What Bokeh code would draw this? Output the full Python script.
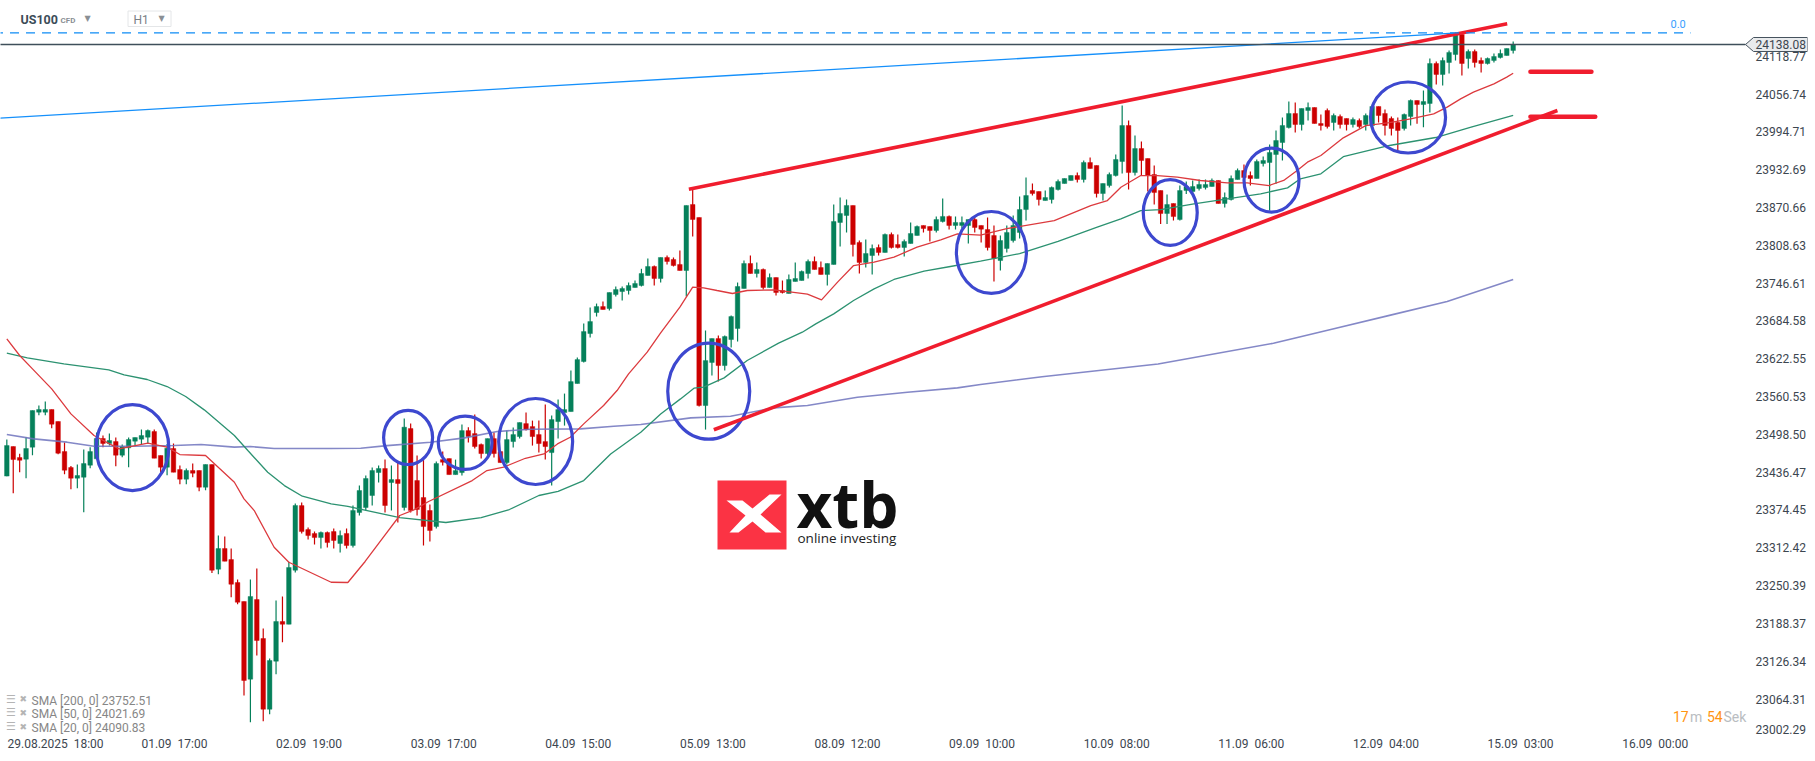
from bokeh.plotting import figure
from bokeh.models import (FixedTicker, Label, PolyAnnotation, Range1d, PrintfTickFormatter)
from bokeh.embed import file_html
from bokeh.resources import INLINE

# ---- data ----
opens = [
23430,23478.5,23460.5,23457.8,23477.5,23534.9,23534.9,23539.3,23519.6,23470.3,
23444.1,23426.6,23428.2,23447.9,23458.3,23491.7,23483.5,23486.7,23464.3,23476.4,
23487.3,23490.6,23493.9,23503.2,23463.8,23444.6,23475.3,23440.8,23425,23439.2,
23439.2,23411.8,23449,23277.3,23311.2,23293.1,23255.4,23224.3,23096.9,23227.6,
23163.6,23047.6,23126.4,23191.5,23187,23275.7,23381.7,23342.3,23335.8,23329.2,
23337.4,23339.1,23319.5,23335.9,23316.2,23370.3,23378.5,23398.2,23435.9,23442.5,
23419.5,23424.4,23378.5,23508.1,23422.8,23394.9,23373.6,23347.3,23457.1,23458.8,
23432.5,23435.8,23504.7,23499.8,23481.8,23467,23491.6,23470.3,23452.2,23486.7,
23494.9,23516.2,23511.3,23498.2,23486.7,23468.6,23519.5,23534.3,23535.9,23581.9,
23618,23663.9,23698.4,23708.2,23704.9,23727.9,23732.8,23734.5,23739.4,23742.7,
23759.1,23773.9,23754.2,23788.7,23785.4,23777.2,23767.3,23875.6,23854.3,23545.8,
23616.4,23655.7,23611.4,23654.1,23672.2,23737.8,23778.8,23762.4,23769,23739.4,
23755.8,23734.5,23729.6,23749.3,23750.9,23762.4,23782.1,23772.2,23760.8,23777.2,
23846.1,23857.6,23874,23813.3,23780.5,23791.9,23805.1,23796.9,23826.4,23810,
23805.1,23811.6,23824.8,23841.2,23839.5,23833,23847.7,23856,23841.2,23841.2,
23841.2,23851,23841.2,23834.6,23824.7,23783.7,23803.4,23816.5,23829.7,23867.3,
23898.5,23896.9,23882.1,23883.8,23900.2,23910,23914.9,23923.1,23916.6,23944.5,
23939.6,23893.6,23906.7,23923.1,23946.1,24005.2,23928,23967.4,23951,23924.8,
23898.5,23860.8,23877.2,23850.9,23898.5,23896.9,23901.8,23903.4,23905.1,23915,
23877.2,23883.8,23916.6,23931.3,23923.1,23918.2,23942.8,23944.5,23957.6,23977.3,
24001.9,24024.9,24006.8,24029.8,24034.7,24008.5,24029.8,24010.1,24020,24016.7,
24006.8,24013.4,24006.8,24005.2,24036.4,24024.9,24016.7,24010.1,24000.3,24020,
24046.2,24039.6,24041.3,24106.9,24088.9,24108.6,24121.7,24154.5,24115.1,24126.6,
24111.8,24106.9,24111.8,24116.8,24120,24128.3]

highs = [
23490,23478.5,23466.5,23493.9,23537.6,23545.8,23552.4,23539.3,23519.6,23485.1,
23446.8,23449,23473.6,23477.5,23501.5,23496.6,23499.9,23493.3,23481.8,23493.3,
23493.3,23506.4,23506.4,23506.4,23463.8,23482.9,23483.5,23447.4,23442.4,23450.6,
23439.2,23449,23449,23332.5,23330.8,23311.2,23260.3,23224.3,23260.4,23278.4,
23180,23130.8,23226,23232.5,23289.5,23385,23386.6,23345.6,23339,23339,
23339,23344,23340.8,23344,23381.8,23414.6,23431,23444.1,23447.4,23457.3,
23447.4,23452.3,23524.5,23516.3,23463.8,23458.9,23383.4,23454,23470.3,23458.8,
23457.1,23514.6,23510.2,23531,23483.4,23491.6,23501.4,23470.3,23504.7,23509.7,
23517.9,23534.3,23521.1,23521.1,23547.4,23529.3,23555.6,23565.4,23603.2,23624.5,
23680.3,23706.6,23713.1,23716.4,23731.2,23741,23741,23747.6,23750.9,23770.1,
23787,23775.5,23788.7,23791.9,23788.7,23800.1,23874,23901.3,23854.3,23668.9,
23655.7,23660.7,23660.7,23693.5,23747.6,23783.7,23791.9,23780.5,23770.6,23762.4,
23755.8,23750.9,23760.8,23780.5,23767.3,23785.4,23790.3,23782.1,23778.8,23875.6,
23887.1,23883.8,23874,23816.6,23818.2,23810,23810,23828,23829.7,23826.4,
23818.2,23846.1,23841.2,23841.2,23839.5,23856,23885.5,23857.6,23856,23856,
23851,23854.3,23841.2,23854.3,23841.2,23824.7,23841.2,23857.6,23888.7,23919.9,
23910,23896.9,23898.5,23905.1,23916.6,23918.2,23923.1,23928,23947.7,23952.7,
23939.6,23910,23928,23957.6,24038,24013.4,23988.8,23978.9,23951,23939.6,
23898.5,23892,23877.2,23906.7,23913.3,23915,23916.6,23916.6,23918.2,23915,
23895.2,23923.1,23934.6,23941.2,23929.7,23949.4,23954.3,23974,23997,24018.3,
24044.6,24042.9,24033.1,24042.9,24034.7,24023.2,24033.1,24024.9,24023.2,24016.7,
24018.3,24016.7,24024.9,24039.6,24036.4,24031.5,24020,24018.3,24024.9,24047.8,
24046.2,24062.6,24115.1,24110.2,24116.8,24128.3,24157.8,24157.8,24129.9,24129.9,
24116.8,24116.8,24123.3,24129.9,24131.5,24143]

lows = [
23429.9,23402,23436.4,23426.6,23464.3,23530,23530,23508.6,23466,23433.1,
23408.5,23410.2,23370.8,23443,23458.3,23477.5,23480.2,23446.3,23461,23444.6,
23480.2,23482.9,23484,23459.4,23436.4,23431.5,23436.4,23416.7,23416.7,23428.2,
23405.2,23406.9,23271.2,23269,23290.4,23231.3,23219.8,23070.1,23026.3,23135.7,
23028,23039.4,23105,23157.5,23187,23271.9,23335.8,23325.9,23317.7,23311.2,
23312.8,23311.3,23304.7,23311.3,23312.9,23365.4,23373.6,23381.8,23419.5,23370.3,
23373.6,23353.9,23373.6,23370.3,23365.4,23316.2,23322.8,23344,23447.3,23432.5,
23432.5,23430.9,23485,23475.2,23458.8,23463.7,23460.4,23452.2,23449,23476.8,
23491.6,23504.7,23480.1,23468.6,23457.1,23414.5,23491.6,23512.9,23535.9,23581.9,
23616.3,23657.3,23691.8,23703.3,23701.7,23724.6,23718,23727.9,23739.4,23741.1,
23759.1,23742.7,23747.6,23777.2,23773.9,23767.3,23724.7,23823.1,23544.2,23506.4,
23595,23585.2,23603.2,23641,23650.8,23737.8,23762.4,23755.8,23736.2,23739.4,
23726.3,23729.6,23729.6,23749.3,23750.9,23754.2,23769,23760.8,23742.7,23777.2,
23806.7,23829.7,23790.3,23762.4,23772.3,23760.8,23791.9,23796.9,23803.4,23803.4,
23790.3,23811.6,23824.8,23829.7,23815,23829.7,23846.1,23834.6,23834.6,23836.3,
23811.6,23829.7,23813.3,23800.1,23749.3,23767.3,23796.8,23813.3,23819.8,23849.3,
23890.3,23873.9,23882.1,23877.2,23898.5,23910,23914.9,23911.6,23911.6,23934.6,
23887,23882.1,23903.4,23921.5,23926.4,23900.2,23923.1,23923.1,23896.9,23875.6,
23843.8,23843.8,23849.3,23849.3,23893,23893,23898.5,23900.2,23905.1,23877.2,
23870.6,23882.1,23916.6,23915,23906.7,23918.2,23937.9,23865.7,23909.5,23947.8,
24000.2,23993.7,23997,24013.4,24008.5,23997,24000.3,23997,24000.3,23997,
24002,24000.3,23997,24000.3,24010.1,23988.8,23988.8,23964.2,23997,24005.2,
24007.9,24002.4,24026.5,24072.5,24070.8,24090.5,24111.8,24087.2,24098.7,24100.4,
24092.1,24105.3,24108.6,24115.1,24120,24123.3]

closes = [
23480.2,23457.2,23456,23475.3,23537.6,23539.3,23539.3,23515.2,23467.6,23439.7,
23426.6,23431,23450.6,23470.3,23491.7,23483.5,23488.4,23464.3,23478.5,23490,
23493.3,23496.6,23504.8,23459.4,23444.6,23475.8,23436.4,23425,23439.2,23434.8,
23411.8,23449,23275.6,23311.2,23290.4,23252.6,23223.1,23094.7,23232.5,23160.3,
23047.6,23127.5,23191.5,23187,23280.1,23381.8,23339,23332.5,23329.2,23337.4,
23321,23324.4,23332.6,23316.2,23373.6,23406.4,23426.1,23439.2,23442.5,23381.8,
23424.4,23417.9,23510.3,23373.6,23375.2,23347.3,23340.8,23450.7,23452.8,23432.5,
23439.1,23504.7,23494.9,23478.5,23467,23491.6,23467,23452.2,23490,23498.2,
23517.9,23506.4,23494.9,23483.4,23478.5,23522.8,23539.2,23539.2,23585.1,23621.2,
23667.2,23683.6,23708.2,23703.3,23731.2,23736.1,23737.8,23742.7,23746,23762.4,
23773.9,23754.2,23788.7,23782.1,23775.5,23767.3,23874,23851,23545.8,23619.6,
23655.7,23611.4,23659,23691.8,23741.1,23778.8,23762.4,23769,23739.4,23755.8,
23731.2,23731.2,23752.6,23754.2,23765.7,23782.1,23769,23760.8,23778.8,23847.7,
23860.9,23874,23810,23780.5,23795.2,23803.4,23796.9,23826.4,23805.1,23805.1,
23814.9,23828,23839.5,23836.3,23833,23851,23856,23841.2,23846.1,23846.1,
23851,23837.9,23835.2,23805,23787,23816.5,23829.7,23841.2,23867.3,23890.3,
23893.6,23883.8,23887,23903.4,23913.3,23918.2,23923.1,23916.6,23944.5,23934.6,
23893.6,23910,23924.8,23949.4,24005.2,23928,23967.4,23947.8,23923.1,23895.2,
23860.8,23875.6,23855.8,23898.5,23905.1,23905.1,23908.4,23908.4,23915,23877.2,
23887,23918.2,23931.3,23919.9,23918.2,23946.1,23947.8,23960.9,23980.6,24005.2,
24024.9,24006.8,24033.1,24034.7,24008.5,24005.2,24003.6,24021.6,24006.8,24006.8,
24015,24003.6,24021.6,24036.4,24021.6,24005.2,24000.3,23997,24023.2,24046.2,
24039.6,24044.5,24106.9,24088.9,24111.8,24125,24154.5,24106.9,24126.6,24108.6,
24106.9,24115.1,24118.4,24123.3,24131.5,24138.08]

sma20_idx = [0,2,4,7,10,13.6,17.5,22,25,27,31,35.5,37,38.6,41.7,44,50.6,53.2,55.9,58.6,61.3,63.6,65.8,72.6,74.9,77.5,80.9,83.8,85.9,87.9,90,93.1,95.2,97,99.9,102,105,107,108.7,110.8,113.2,115.5,119.7,124.9,127.1,129.6,132.1,135.3,138.4,142,145.7,148.3,151.9,156,163.4,169.1,171.7,173.8,176.9,179.5,182.6,186.2,190.4,193.5,196.9,199.2,201.3,202.9,205,208.5,212,215.7,219,222.6,224.7,226.8,228.8,232,234,235]
sma20_val = [23655.2,23627.9,23606,23573.2,23532.1,23496.6,23474.7,23484,23477.5,23465.4,23463.8,23420,23392.7,23373.5,23313.4,23288.7,23255.9,23255.5,23290,23327.7,23365.4,23375.2,23388.4,23422.7,23439.1,23444.6,23459.3,23466.4,23482.8,23493.8,23515.7,23545.8,23570.4,23597.7,23633.3,23665,23707.2,23740,23738.9,23734.5,23729.6,23734.5,23735.6,23728.5,23719.2,23748.2,23775.5,23781,23789.2,23805.6,23817.7,23827.5,23825.3,23836,23849.3,23873.9,23882.1,23904,23923.1,23923.1,23920.4,23915,23911.1,23911.1,23906.7,23915,23931.3,23945,23956,23985,24005,24010,24016,24024.3,24035.3,24048.9,24059.9,24073.5,24084.5,24090.83]

sma50_idx = [0,3.2,8.9,15.9,18.3,21.9,25,27.9,30.8,35.5,37.6,40.7,43.3,46.1,50.6,53.2,61.3,68.5,74,78.4,83,86,90,94.2,98.9,102,105.1,107.2,108.7,111.9,115.5,120.4,124.1,126.2,129,132.1,135.3,138.4,143.1,147.2,151.9,158,164,170,173.8,176.9,180,185.2,190.4,195.6,199.8,201.8,205,208.5,215.7,222.9,228.3,235]
sma50_val = [23631.7,23624,23614.2,23604.4,23596.2,23588.5,23577,23560.6,23538.7,23496.6,23472,23436.4,23414.5,23397,23384.5,23380.2,23362,23353.9,23362,23375.2,23398.2,23405,23422.7,23466.4,23502,23532,23556.7,23574.2,23575.9,23591.2,23619.6,23648.1,23666.1,23679.8,23696.2,23718.1,23737.2,23752.6,23766.2,23773.9,23782.6,23795,23815,23838,23852,23865.7,23867.3,23876.6,23884.8,23893,23902.9,23917.7,23925.9,23954,23972.4,23985.5,24002,24021.69]

sma200_idx = [0,4.2,9.4,13.6,19.8,26.1,30.3,35.5,38,41.7,50.6,55.2,59.3,66.1,71.4,76.5,81.7,89.5,94.7,98.9,106.7,112.9,119.7,124.9,132.7,140.5,148.3,151.9,161.5,179.6,197.6,206.7,215.7,224.7,235]
sma200_val = [23498.2,23491.1,23485.7,23479.1,23479.1,23480.2,23481.8,23477.5,23478.5,23475.3,23475.3,23475.7,23480.1,23485.6,23492.7,23503.1,23506.9,23507.5,23511.8,23514.6,23525.6,23528.3,23542,23545.8,23559.5,23567.7,23574.8,23580.3,23593,23614,23648,23671,23693.7,23716.5,23752.51]

price_ticks = [23002.29,23064.31,23126.34,23188.37,23250.39,23312.42,23374.45,23436.47,23498.50,23560.53,
               23622.55,23684.58,23746.61,23808.63,23870.66,23932.69,23994.71,24056.74,24118.77]
time_tick_idx = [0,21,42,63,84,105,126,147,168,189,210,231,252]
time_labels = ["29.08.2025\u00a0\u00a018:00","01.09\u00a0\u00a017:00","02.09\u00a0\u00a019:00","03.09\u00a0\u00a017:00","04.09\u00a0\u00a015:00","05.09\u00a0\u00a013:00",
               "08.09\u00a0\u00a012:00","09.09\u00a0\u00a010:00","10.09\u00a0\u00a008:00","11.09\u00a0\u00a006:00","12.09\u00a0\u00a004:00","15.09\u00a0\u00a003:00","16.09\u00a0\u00a000:00"]
last_price = 24138.08
level_price = 24157.3
sma_legend = ["SMA [200, 0] 23752.51","SMA [50, 0] 24021.69","SMA [20, 0] 24090.83"]

# ---- scales ----
SPACING = 6.41
PTS = 1.6405
def ix(px): return (px - 6.33) / SPACING          # page pixel -> candle index
def pr(py): return 24210.26 - PTS * py            # page pixel -> price

# the frame runs under the price labels, so that the price tag can be drawn behind them
FW, FH = 1807, 736
p = figure(frame_width=FW, frame_height=FH, output_backend="svg", toolbar_location=None,
           x_range=Range1d(ix(0), ix(FW)), y_range=Range1d(pr(FH), pr(0)),
           y_axis_location="right", min_border=0, min_border_left=0, min_border_right=0,
           min_border_top=0, min_border_bottom=0, outline_line_color=None, background_fill_color="white")
p.grid.visible = False

ya = p.yaxis[0]
bottom_tick = pr(729)
ya.ticker = FixedTicker(ticks=price_ticks[1:] + [bottom_tick, last_price])
ya.formatter = PrintfTickFormatter(format="%.2f")
ya.major_label_overrides = {bottom_tick: "23002.29"}

# the labels start at their time, Bokeh centres them on a tick: half a label's width further on
xa = p.xaxis[0]
label_ticks = [(0 if i == 0 else t) + (7.6 if i == 0 else 5.15) for i, t in enumerate(time_tick_idx)]
xa.ticker = FixedTicker(ticks=label_ticks)
xa.major_label_overrides = dict(zip(label_ticks, time_labels))
for a in (xa, ya):
    a.axis_line_color = None
    a.major_tick_line_color = None
    a.minor_tick_line_color = None
    a.major_tick_out = 0
    a.major_tick_in = 0
    a.minor_tick_out = 0
    a.major_label_text_font = "Roboto"
    a.major_label_text_font_size = "12px"
    a.major_label_text_color = "#3c4650"
ya.major_label_standoff = -52
xa.major_label_standoff = 0

def text(s, x, y, size, color, font="Roboto", style="normal", align="left"):
    p.add_layout(Label(x=ix(x), y=pr(y), text=s, text_font=font, text_font_size=size, text_color=color,
                       text_font_style=style, text_baseline="middle", text_align=align))

def poly(points, fill, line=None, lw=1, level="annotation"):
    p.add_layout(PolyAnnotation(xs=[ix(a) for a, _ in points], ys=[pr(b) for _, b in points], level=level,
                                fill_color=fill, fill_alpha=1, line_color=line, line_width=lw, line_alpha=1))

# price tag, behind its axis label
poly([(1745,44),(1753,37),(1807,37),(1807,51),(1753,51)], "#e9ebed", "#46535e", 1, level="underlay")

# ---- candles ----
GREEN, RED = "#05805a", "#cc0000"
xs = list(range(len(opens)))
cols = [GREEN if c >= o else RED for o, c in zip(opens, closes)]
p.segment(xs, lows, xs, highs, color=cols, line_width=1.2)
p.vbar(x=xs, width=4.6 / SPACING, bottom=opens, top=closes, fill_color=cols, line_color=cols, line_width=0.4)

# ---- moving averages ----
p.line(sma200_idx, sma200_val, line_color="#6f73bd", line_width=1.6, line_alpha=0.85)
p.line(sma50_idx, sma50_val, line_color="#2c9271", line_width=1.3)
p.line(sma20_idx, sma20_val, line_color="#dc3a3e", line_width=1.3)

# ---- drawings ----
BLUE = "#3d48cf"
ell_x = [19.6,62.6,71.5,82.5,109.5,153.6,181.5,197.3,218.6]
ell_w = [11.33,7.64,8.38,11.54,12.79,10.92,8.42,8.58,11.7]
ell_y = [23476.9,23493.4,23484.7,23486.8,23569.3,23796.9,23862.5,23915.5,24018.3]
ell_h = [141.1,88.6,87.4,141.1,157.5,134.5,108.3,105,116.5]
p.ellipse(ell_x, ell_y, width=ell_w, height=ell_h, fill_color=None, line_color=BLUE, line_width=3.2)

TL = "#f01d2e"
p.line([106.4,234.07],[23900.7,24172], line_color=TL, line_width=3.6)
p.line([110.3,241.9],[23506,24029.8], line_color=TL, line_width=3.6)
p.line([237.7,247.2],[24093.3,24093.3], line_color=TL, line_width=4.6, line_cap="round")
p.line([237.7,247.8],[24019.5,24019.5], line_color=TL, line_width=4.6, line_cap="round")

p.line([-2,225.7],[24016.7,24156.6], line_color="#1590fb", line_width=1.3)
p.line([-2,ix(1690)],[level_price,level_price], line_color="#0e8cf5", line_width=1.3, line_dash="9 7")
p.line([-2,ix(1745)],[last_price,last_price], line_color="#3f4f5a", line_width=1.3)

text("0.0", 1670, 23, "11px", "#3aa0ff")

# header
text("US100", 20, 19, "12.5px", "#3c4c58", style="bold")
text("CFD", 60, 19.5, "8px", "#8a8f94", style="bold")
text("\u25BC", 84, 17.5, "8px", "#8a8f94", font="DejaVu Sans")
poly([(127.5,10.5),(170.5,10.5),(170.5,26),(127.5,26)], "white", "#e4e6e8", 1)
text("H1", 133, 19.5, "12px", "#7a8086")
text("\u25BC", 158, 18, "8px", "#8a8f94", font="DejaVu Sans")

# indicator legend
for s, y in zip(sma_legend, (699.7, 713.4, 727.3)):
    text("\u2630", 5.5, y - 1, "11px", "#b4b4b4", font="DejaVu Sans")
    text("\u2716", 19, y - 1, "9px", "#b4b4b4", font="DejaVu Sans")
    text(s, 31, y + 0.5, "12px", "#868686")

# countdown
text("17", 1672.5, 716, "14px", "#ff9410")
text("m", 1689.5, 716, "14px", "#b9bdc1")
text("54", 1706.5, 716, "14px", "#ff9410")
text("Sek", 1723, 716, "14px", "#b9bdc1")

# logo
poly([(717,480),(786,480),(786,549),(717,549)], "#fb3344")
poly([(726,500),(742,500),(752,508),(769,494),(781,494),(760,514),(781,532),(765,532),(752,521),(738,532),(729,532),(745,515)], "white")
text("xtb", 796, 503, "62px", "#111111", font="Open Sans", style="bold")
text("online investing", 797, 537, "13.5px", "#222222", font="Open Sans")

open("out.html", "w").write(file_html(p, INLINE))
